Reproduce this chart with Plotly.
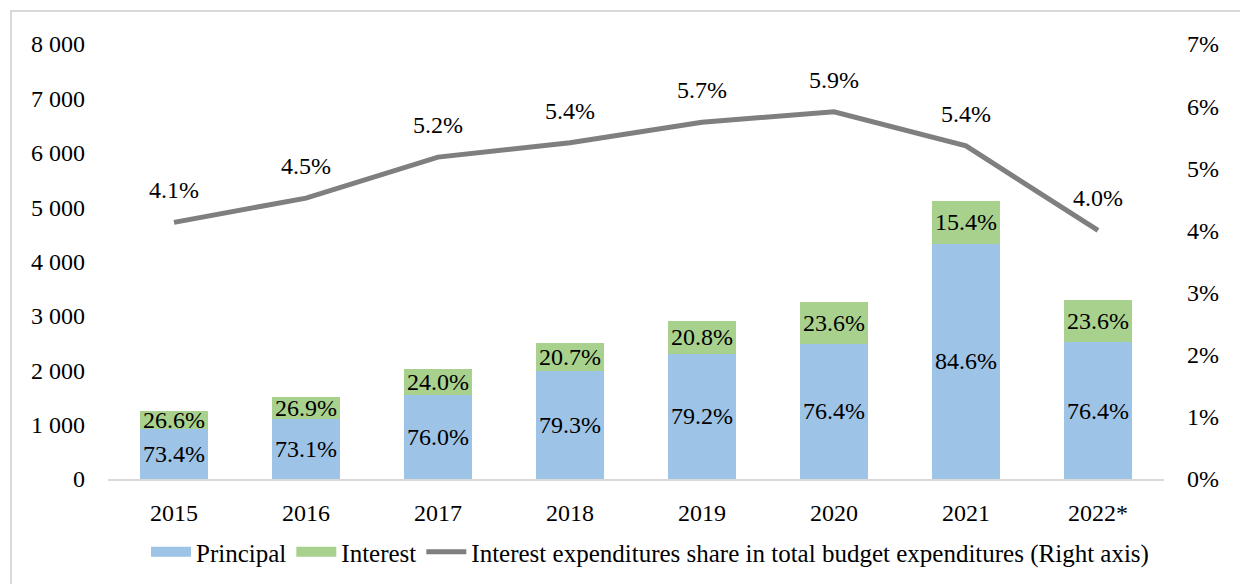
import plotly.graph_objects as go

years = ["2015", "2016", "2017", "2018", "2019", "2020", "2021", "2022*"]
principal = [917, 1098, 1537, 1983, 2301, 2487, 4330, 2515]
interest = [333, 404, 486, 518, 605, 768, 788, 777]
principal_share = ["73.4%", "73.1%", "76.0%", "79.3%", "79.2%", "76.4%", "84.6%", "76.4%"]
interest_share = ["26.6%", "26.9%", "24.0%", "20.7%", "20.8%", "23.6%", "15.4%", "23.6%"]
budget_share = [4.13, 4.52, 5.18, 5.41, 5.74, 5.91, 5.36, 4.00]
budget_share_labels = ["4.1%", "4.5%", "5.2%", "5.4%", "5.7%", "5.9%", "5.4%", "4.0%"]

FONT = "Liberation Serif"
BLUE = "#9DC3E6"
GREEN = "#A9D18E"
GREY = "#7F7F7F"
FS = 24
LINE_NAME = "Interest expenditures share in total budget expenditures (Right axis)"

fig = go.Figure()
fig.add_trace(go.Bar(x=years, y=principal, name="Principal", marker=dict(color=BLUE, line=dict(width=0)),
                     width=0.51, hoverinfo="skip", showlegend=False))
fig.add_trace(go.Bar(x=years, y=interest, name="Interest", marker=dict(color=GREEN, line=dict(width=0)),
                     width=0.51, hoverinfo="skip", showlegend=False))
fig.add_trace(go.Scatter(x=years, y=budget_share, yaxis="y2", mode="lines", name=LINE_NAME,
                         line=dict(color=GREY, width=5), hoverinfo="skip", showlegend=False))

# legend-only entries (wide rectangular swatches like the reference)
fig.add_trace(go.Scatter(x=[None], y=[None], mode="lines", name="Principal",
                         line=dict(color=BLUE, width=15)))
fig.add_trace(go.Scatter(x=[None], y=[None], mode="lines", name="Interest",
                         line=dict(color=GREEN, width=15)))
fig.add_trace(go.Scatter(x=[None], y=[None], mode="lines", name=LINE_NAME, yaxis="y2",
                         line=dict(color=GREY, width=5)))

annotations = []
for i, yr in enumerate(years):
    # category axis: annotations use the category index
    annotations.append(dict(x=i, y=principal[i] / 2, xref="x", yref="y", text=principal_share[i],
                            showarrow=False, font=dict(family=FONT, size=FS, color="black")))
    annotations.append(dict(x=i, y=principal[i] + interest[i] / 2, xref="x", yref="y", text=interest_share[i],
                            showarrow=False, font=dict(family=FONT, size=FS, color="black")))
    annotations.append(dict(x=i, y=budget_share[i], xref="x", yref="y2", text=budget_share_labels[i],
                            showarrow=False, yshift=32, font=dict(family=FONT, size=FS, color="black")))

W, H = 1248, 584
OFF = 8  # page body margin offset
# target screen coordinates of plot area
SX0, SX1, SY0, SY1 = 108, 1164, 44, 479
L = SX0 - OFF
T = SY0 - OFF
R = W - (SX1 - OFF)
B = H - (SY1 - OFF)
pw, ph = W - L - R, H - T - B

def px(xs):
    return (xs - SX0) / pw

def py(ys):
    return (SY1 - ys) / ph

fig.update_layout(
    width=W, height=H,
    margin=dict(l=L, r=R, t=T, b=B, pad=0),
    barmode="stack",
    bargap=0.49,
    separators=". ",
    plot_bgcolor="white",
    paper_bgcolor="white",
    font=dict(family=FONT, size=FS, color="black"),
    xaxis=dict(type="category", range=[-0.5, len(years) - 0.5], showgrid=False, showline=True,
               linecolor="#D9D9D9", linewidth=2, ticks="",
               tickfont=dict(family=FONT, size=FS), ticklabelstandoff=11, fixedrange=True),
    yaxis=dict(range=[0, 8000], dtick=1000, tickformat=",d", showgrid=False, zeroline=False,
               showline=False, ticks="", tickfont=dict(family=FONT, size=FS), ticklabelstandoff=22),
    yaxis2=dict(range=[0, 7], dtick=1, ticksuffix="%", overlaying="y", side="right", showgrid=False,
                zeroline=False, showline=False, ticks="", tickfont=dict(family=FONT, size=FS),
                ticklabelstandoff=22),
    legend=dict(orientation="h", x=py(0) * 0 + (650 - SX0) / pw, xanchor="center", y=py(552), yanchor="middle",
                font=dict(family=FONT, size=25), itemwidth=40, traceorder="normal",
                bgcolor="rgba(0,0,0,0)"),
    showlegend=True,
    annotations=annotations,
    shapes=[dict(type="rect", xref="paper", yref="paper", x0=px(11), x1=px(1270), y0=py(620), y1=py(11),
                 line=dict(color="#D9D9D9", width=2), fillcolor="rgba(0,0,0,0)", layer="below")],
)

fig.write_html("out.html")
